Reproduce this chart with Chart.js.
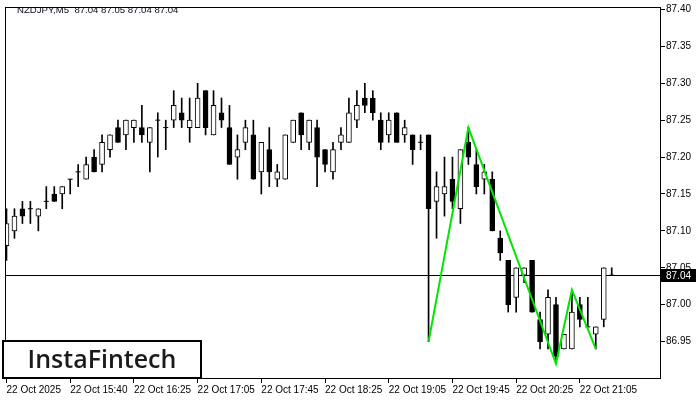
<!DOCTYPE html>
<html><head><meta charset="utf-8">
<script src="https://cdn.jsdelivr.net/npm/chart.js@4.4.1/dist/chart.umd.min.js"></script>
<style>html,body{margin:0;padding:0;background:#fff;overflow:hidden}</style>
</head><body>
<canvas id="c" width="700" height="400"></canvas>
<script>
const symbolTitle = "NZDJPY,M5  87.04 87.05 87.04 87.04";
const brandText = "InstaFintech";
const opens  = [87.08,87.10,87.13,87.13,87.12,87.14,87.15,87.15,87.17,87.18,
                87.17,87.20,87.19,87.21,87.24,87.23,87.24,87.24,87.22,87.25,
                87.24,87.25,87.26,87.24,87.24,87.29,87.23,87.26,87.24,87.20,
                87.22,87.23,87.18,87.21,87.17,87.17,87.22,87.26,87.22,87.24,
                87.21,87.18,87.22,87.22,87.25,87.28,87.28,87.25,87.23,87.26,
                87.23,87.23,87.22,87.23,87.14,87.15,87.17,87.13,87.22,87.19,
                87.17,87.17,87.09,87.06,87.01,87.04,87.06,86.98,86.96,87.00,
                86.94,86.94,87.00,86.97,86.96,86.98,87.04];
const highs  = [87.13,87.13,87.14,87.14,87.13,87.16,87.16,87.16,87.17,87.19,
                87.20,87.21,87.23,87.23,87.25,87.25,87.25,87.27,87.24,87.26,
                87.25,87.29,87.28,87.28,87.30,87.29,87.29,87.28,87.27,87.23,
                87.25,87.25,87.22,87.24,87.19,87.23,87.25,87.26,87.25,87.25,
                87.21,87.22,87.24,87.28,87.29,87.30,87.29,87.26,87.26,87.26,
                87.25,87.23,87.23,87.23,87.18,87.20,87.20,87.21,87.24,87.21,
                87.19,87.18,87.10,87.06,87.05,87.05,87.06,86.99,87.02,87.01,
                86.96,87.02,87.01,87.01,86.97,87.05,87.05];
const lows   = [87.06,87.09,87.11,87.11,87.10,87.13,87.14,87.13,87.15,87.16,
                87.17,87.18,87.18,87.20,87.22,87.21,87.22,87.22,87.18,87.20,
                87.21,87.24,87.24,87.22,87.24,87.23,87.23,87.24,87.19,87.17,
                87.21,87.17,87.15,87.16,87.16,87.17,87.22,87.21,87.21,87.16,
                87.18,87.17,87.21,87.22,87.24,87.26,87.25,87.21,87.22,87.22,
                87.22,87.19,87.21,86.95,87.09,87.12,87.13,87.11,87.19,87.15,
                87.15,87.10,87.06,86.99,86.99,87.03,86.99,86.94,86.94,86.92,
                86.94,86.94,86.97,86.97,86.94,86.97,87.04];
const closes = [87.11,87.12,87.12,87.13,87.13,87.14,87.14,87.16,87.17,87.18,
                87.19,87.18,87.22,87.23,87.22,87.25,87.25,87.23,87.24,87.25,
                87.24,87.27,87.25,87.25,87.28,87.24,87.27,87.25,87.19,87.21,
                87.24,87.17,87.22,87.18,87.18,87.23,87.25,87.23,87.25,87.20,
                87.19,87.21,87.23,87.26,87.27,87.27,87.26,87.22,87.25,87.22,
                87.24,87.21,87.22,87.13,87.16,87.16,87.14,87.21,87.20,87.16,
                87.18,87.10,87.07,87.00,87.05,87.05,86.99,86.95,87.01,86.93,
                86.96,86.99,86.98,86.97,86.97,87.05,87.04];
const timeTickIdx = [0,8,16,24,32,40,48,56,64,72];
const timeTickLabels = ["22 Oct 2025","22 Oct 15:40","22 Oct 16:25","22 Oct 17:05","22 Oct 17:45",
                        "22 Oct 18:25","22 Oct 19:05","22 Oct 19:45","22 Oct 20:25","22 Oct 21:05"];
const priceTicks = [86.95,87.00,87.05,87.10,87.15,87.20,87.25,87.30,87.35,87.40];
const patternIdx  = [53,58,69,71,74];
const patternVals = [86.95,87.24,86.92,87.02,86.94];
const lastPrice = 87.04;
const lastPriceLabel = "87.04";

const idx = opens.map((_, i) => i);
const wicks = idx.map(i => ({x: i, y: [lows[i], highs[i]]}));
const bodyIdx = idx.filter(i => opens[i] !== closes[i]);
const bodies = bodyIdx.map(i => ({x: i, y: [opens[i], closes[i]]}));
const bodyFill = bodyIdx.map(i => closes[i] > opens[i] ? '#ffffff' : '#000000');
const dojis = idx.filter(i => opens[i] === closes[i]).map(i => ({x: i, y: opens[i]}));
const pattern = patternIdx.map((x, k) => ({x, y: patternVals[k]}));

const FONT = "'Liberation Sans', Arial, sans-serif";

const decor = {
  id: 'decor',
  beforeDatasetsDraw(chart) {
    const {ctx, chartArea: a, scales: {y}} = chart;
    const py = Math.floor(y.getPixelForValue(lastPrice)) + 0.5;
    ctx.save();
    ctx.strokeStyle = '#000'; ctx.lineWidth = 1;
    ctx.beginPath(); ctx.moveTo(a.left, py); ctx.lineTo(a.right, py); ctx.stroke();
    ctx.restore();
  },
  afterDraw(chart) {
    const {ctx, chartArea: a, scales: {y}} = chart;
    ctx.save();
    ctx.strokeStyle = '#000'; ctx.lineWidth = 1;
    ctx.strokeRect(a.left + 0.5, a.top + 0.5, a.right - a.left - 1, a.bottom - a.top - 1);
    const py = Math.floor(y.getPixelForValue(lastPrice));
    ctx.fillStyle = '#000';
    ctx.fillRect(a.right, py - 6, 35, 13);
    ctx.fillStyle = '#fff';
    ctx.font = '10px ' + FONT;
    ctx.textBaseline = 'middle'; ctx.textAlign = 'left';
    ctx.fillText(lastPriceLabel, a.right + 5, py + 1);
    ctx.fillStyle = '#0a0a1e';
    ctx.font = '9.6px ' + FONT;
    ctx.fillText(symbolTitle, 17, 10);
    ctx.fillStyle = '#fff';
    ctx.fillRect(3, 341, 198, 37);
    ctx.strokeStyle = '#000'; ctx.lineWidth = 2;
    ctx.strokeRect(3, 341, 198, 37);
    ctx.fillStyle = '#1a1a1a';
    ctx.font = "600 25px 'Open Sans', Lato, sans-serif";
    ctx.textAlign = 'center'; ctx.textBaseline = 'alphabetic';
    ctx.fillText(brandText, 102, 368);
    ctx.restore();
  }
};

new Chart(document.getElementById('c'), {
  type: 'bar',
  data: {
    datasets: [
      { type: 'line', data: pattern, borderColor: '#00e600', borderWidth: 2, pointRadius: 0,
        tension: 0, fill: false, order: 0 },
      { type: 'line', data: dojis, showLine: false, pointStyle: 'line', pointRadius: 2.5,
        pointBorderColor: '#000', pointBorderWidth: 1, order: 1 },
      { type: 'bar', data: bodies, backgroundColor: bodyFill, borderColor: '#000', borderWidth: 1,
        borderSkipped: false, barThickness: 5, grouped: false, order: 2 },
      { type: 'bar', data: wicks, backgroundColor: '#000', borderWidth: 0,
        barThickness: 1, grouped: false, order: 3 }
    ]
  },
  options: {
    responsive: false,
    devicePixelRatio: 1,
    animation: false,
    layout: { padding: { left: 2, top: 1, right: 0, bottom: 0 } },
    plugins: { legend: { display: false }, tooltip: { enabled: false }, title: { display: false } },
    scales: {
      x: {
        type: 'linear', min: -0.1875, max: 82.1875, offset: false,
        afterBuildTicks: s => { s.ticks = timeTickIdx.map(v => ({value: v})); },
        afterFit: s => { s.height = 21; },
        grid: { drawOnChartArea: false, drawTicks: true, tickLength: 4, color: '#000', offset: false },
        border: { display: false },
        ticks: { autoSkip: false, maxRotation: 0, minRotation: 0, align: 'start', padding: 1, color: '#000',
                 font: { family: FONT, size: 10 },
                 callback: (v, i) => timeTickLabels[i] }
      },
      y: {
        type: 'linear', position: 'right', min: 86.89933, max: 87.40333,
        afterBuildTicks: s => { s.ticks = priceTicks.map(v => ({value: v})); },
        afterFit: s => { s.width = 39; },
        grid: { drawOnChartArea: false, drawTicks: true, tickLength: 4, color: '#000' },
        border: { display: false },
        ticks: { padding: 1, color: '#000', font: { family: FONT, size: 10 },
                 callback: v => v.toFixed(2) }
      }
    }
  },
  plugins: [decor]
});
</script>
</body></html>
